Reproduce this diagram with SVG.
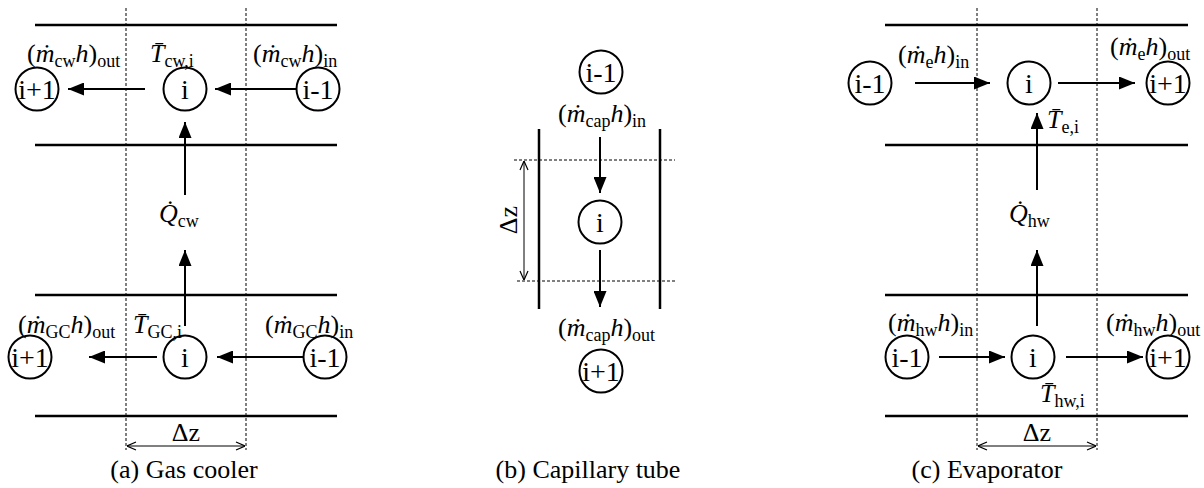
<svg xmlns="http://www.w3.org/2000/svg" width="1204" height="488" viewBox="0 0 1204 488" font-family="Liberation Serif, DejaVu Serif, serif">
<style>
text{font-family:"Liberation Serif","DejaVu Serif",serif;font-size:26px;fill:#000}
.i{font-style:italic}
.s{font-size:18px}
.c{text-anchor:middle}
.node text{font-size:28px}
.wall{stroke:#000;stroke-width:2.5;fill:none}
.dash{stroke:#000;stroke-width:1;stroke-dasharray:3,2;fill:none}
.node circle{fill:#fff;stroke:#000;stroke-width:2}
.arr{stroke:#000;stroke-width:2;fill:none;marker-end:url(#ah)}
.dim{stroke:#000;stroke-width:1;fill:none;marker-start:url(#oh);marker-end:url(#oh)}
</style>
<defs>
<marker id="ah" viewBox="0 0 16 13" refX="16" refY="6.5" markerWidth="16" markerHeight="13" markerUnits="userSpaceOnUse" orient="auto">
<path d="M0,0 L16,6.5 L0,13 z" fill="#000"/>
</marker>
<marker id="oh" viewBox="0 0 10 10" refX="10" refY="5" markerWidth="10" markerHeight="10" markerUnits="userSpaceOnUse" orient="auto-start-reverse">
<path d="M1,1 L10,5 L1,9" fill="none" stroke="#000" stroke-width="1.2"/>
</marker>
</defs>
<rect width="1204" height="488" fill="#fff"/>

<!-- Panel (a) Gas cooler -->
<g id="panel-a">
<g id="a-walls">
<line class="wall" x1="35" y1="25" x2="337" y2="25"/>
<line class="wall" x1="35" y1="145" x2="337" y2="145"/>
<line class="wall" x1="35" y1="295" x2="337" y2="295"/>
<line class="wall" x1="35" y1="416" x2="337" y2="416"/>
<line class="dash" x1="126" y1="8" x2="126" y2="450"/>
<line class="dash" x1="246" y1="8" x2="246" y2="450"/>
</g>
<g id="a-connectors">
<line class="arr" x1="297" y1="89" x2="215" y2="89"/>
<line class="arr" x1="145" y1="89" x2="68" y2="89"/>
<line class="arr" x1="185" y1="195" x2="185" y2="122"/>
<line class="arr" x1="185" y1="326" x2="185" y2="250"/>
<line class="arr" x1="303" y1="357" x2="217" y2="357"/>
<line class="arr" x1="157" y1="357" x2="89" y2="357"/>
<line class="dim" x1="127" y1="446" x2="245" y2="446"/>
</g>
<g id="a-cw-ip1" class="node"><circle cx="37" cy="89" r="21.5"/><text class="c" x="37" y="99">i+1</text></g>
<g id="a-cw-i" class="node"><circle cx="185" cy="89" r="21.5"/><text class="c" x="185" y="99">i</text></g>
<g id="a-cw-im1" class="node"><circle cx="318" cy="89" r="21.5"/><text class="c" x="318" y="99">i-1</text></g>
<g id="a-gc-ip1" class="node"><circle cx="30" cy="357" r="21.5"/><text class="c" x="30" y="367">i+1</text></g>
<g id="a-gc-i" class="node"><circle cx="185" cy="357" r="21.5"/><text class="c" x="185" y="367">i</text></g>
<g id="a-gc-im1" class="node"><circle cx="325" cy="357" r="21.5"/><text class="c" x="325" y="367">i-1</text></g>
<g id="a-labels">
<text x="27" y="62">(<tspan class="i">ṁ</tspan><tspan class="s" dy="5">cw</tspan><tspan class="i" dy="-5">h</tspan>)<tspan class="s" dy="5">out</tspan></text>
<text x="150" y="62"><tspan class="i">T̄</tspan><tspan class="s" dy="5">cw,i</tspan></text>
<text x="253" y="62">(<tspan class="i">ṁ</tspan><tspan class="s" dy="5">cw</tspan><tspan class="i" dy="-5">h</tspan>)<tspan class="s" dy="5">in</tspan></text>
<text x="159" y="222"><tspan class="i">Q̇</tspan><tspan class="s" dy="5">cw</tspan></text>
<text x="18" y="333">(<tspan class="i">ṁ</tspan><tspan class="s" dy="5">GC</tspan><tspan class="i" dy="-5">h</tspan>)<tspan class="s" dy="5">out</tspan></text>
<text x="133" y="333"><tspan class="i">T̄</tspan><tspan class="s" dy="5">GC,i</tspan></text>
<text x="265" y="333">(<tspan class="i">ṁ</tspan><tspan class="s" dy="5">GC</tspan><tspan class="i" dy="-5">h</tspan>)<tspan class="s" dy="5">in</tspan></text>
<text class="c" x="186" y="441">Δz</text>
<text class="c" x="184" y="478">(a) Gas cooler</text>
</g>
</g>

<!-- Panel (b) Capillary tube -->
<g id="panel-b">
<g id="b-walls">
<line class="wall" x1="539" y1="129" x2="539" y2="309"/>
<line class="wall" x1="660" y1="129" x2="660" y2="309"/>
<line class="dash" x1="514" y1="160" x2="675" y2="160"/>
<line class="dash" x1="517" y1="281" x2="675" y2="281"/>
</g>
<g id="b-connectors">
<line class="arr" x1="600" y1="137" x2="600" y2="193"/>
<line class="arr" x1="600" y1="250" x2="600" y2="307"/>
<line class="dim" x1="524" y1="161" x2="524" y2="280"/>
</g>
<g id="b-im1" class="node"><circle cx="601" cy="72" r="21.5"/><text class="c" x="601" y="82">i-1</text></g>
<g id="b-i" class="node"><circle cx="600" cy="222" r="21.5"/><text class="c" x="600" y="232">i</text></g>
<g id="b-ip1" class="node"><circle cx="601" cy="371" r="21.5"/><text class="c" x="601" y="381">i+1</text></g>
<g id="b-labels">
<text x="558" y="122">(<tspan class="i">ṁ</tspan><tspan class="s" dy="5">cap</tspan><tspan class="i" dy="-5">h</tspan>)<tspan class="s" dy="5">in</tspan></text>
<text x="558" y="336">(<tspan class="i">ṁ</tspan><tspan class="s" dy="5">cap</tspan><tspan class="i" dy="-5">h</tspan>)<tspan class="s" dy="5">out</tspan></text>
<text class="c" transform="translate(517,220) rotate(-90)">Δz</text>
<text class="c" x="588" y="478">(b) Capillary tube</text>
</g>
</g>

<!-- Panel (c) Evaporator -->
<g id="panel-c">
<g id="c-walls">
<line class="wall" x1="885" y1="25" x2="1188" y2="25"/>
<line class="wall" x1="885" y1="145" x2="1188" y2="145"/>
<line class="wall" x1="885" y1="295" x2="1188" y2="295"/>
<line class="wall" x1="885" y1="416" x2="1188" y2="416"/>
<line class="dash" x1="977" y1="8" x2="977" y2="450"/>
<line class="dash" x1="1097" y1="8" x2="1097" y2="450"/>
</g>
<g id="c-connectors">
<line class="arr" x1="915" y1="83" x2="990" y2="83"/>
<line class="arr" x1="1058" y1="83" x2="1135" y2="83"/>
<line class="arr" x1="1037" y1="190" x2="1037" y2="113"/>
<line class="arr" x1="1037" y1="326" x2="1037" y2="250"/>
<line class="arr" x1="939" y1="357" x2="1005" y2="357"/>
<line class="arr" x1="1066" y1="357" x2="1143" y2="357"/>
<line class="dim" x1="978" y1="446" x2="1096" y2="446"/>
</g>
<g id="c-e-im1" class="node"><circle cx="870" cy="83" r="21.5"/><text class="c" x="870" y="93">i-1</text></g>
<g id="c-e-i" class="node"><circle cx="1029" cy="83" r="21.5"/><text class="c" x="1029" y="93">i</text></g>
<g id="c-e-ip1" class="node"><circle cx="1168" cy="83" r="21.5"/><text class="c" x="1168" y="93">i+1</text></g>
<g id="c-hw-im1" class="node"><circle cx="907" cy="357" r="21.5"/><text class="c" x="907" y="367">i-1</text></g>
<g id="c-hw-i" class="node"><circle cx="1033" cy="357" r="21.5"/><text class="c" x="1033" y="367">i</text></g>
<g id="c-hw-ip1" class="node"><circle cx="1168" cy="357" r="21.5"/><text class="c" x="1168" y="367">i+1</text></g>
<g id="c-labels">
<text x="898" y="63">(<tspan class="i">ṁ</tspan><tspan class="s" dy="5">e</tspan><tspan class="i" dy="-5">h</tspan>)<tspan class="s" dy="5">in</tspan></text>
<text x="1110" y="55">(<tspan class="i">ṁ</tspan><tspan class="s" dy="5">e</tspan><tspan class="i" dy="-5">h</tspan>)<tspan class="s" dy="5">out</tspan></text>
<text x="1047" y="128"><tspan class="i">T̄</tspan><tspan class="s" dy="5">e,i</tspan></text>
<text x="1009" y="222"><tspan class="i">Q̇</tspan><tspan class="s" dy="5">hw</tspan></text>
<text x="888" y="331">(<tspan class="i">ṁ</tspan><tspan class="s" dy="5">hw</tspan><tspan class="i" dy="-5">h</tspan>)<tspan class="s" dy="5">in</tspan></text>
<text x="1106" y="331">(<tspan class="i">ṁ</tspan><tspan class="s" dy="5">hw</tspan><tspan class="i" dy="-5">h</tspan>)<tspan class="s" dy="5">out</tspan></text>
<text x="1040" y="402"><tspan class="i">T̄</tspan><tspan class="s" dy="5">hw,i</tspan></text>
<text class="c" x="1037" y="441">Δz</text>
<text class="c" x="987" y="478">(c) Evaporator</text>
</g>
</g>
</svg>
